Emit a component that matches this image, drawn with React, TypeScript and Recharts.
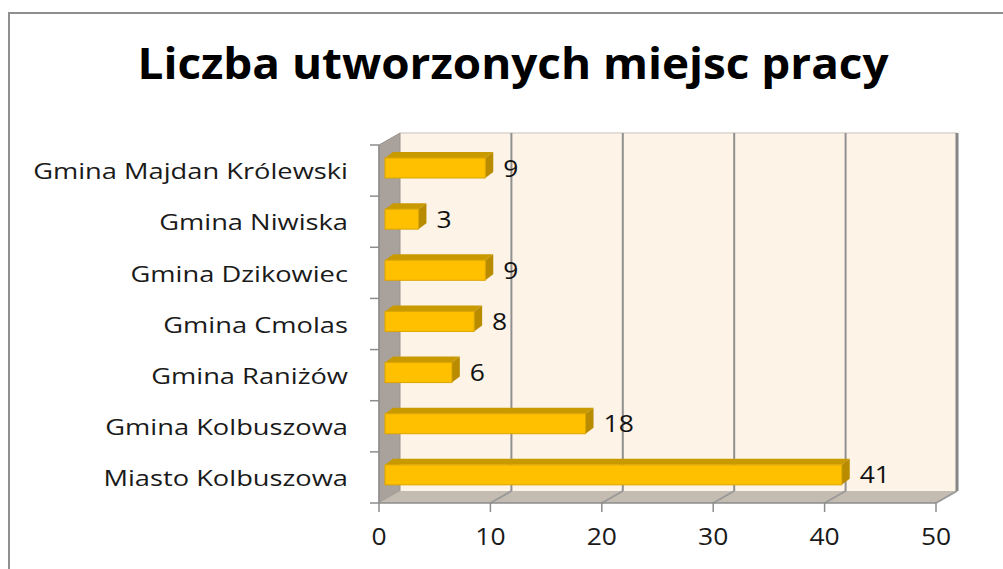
import React from "react";
import {
  BarChart,
  Bar,
  XAxis,
  YAxis,
  ReferenceArea,
  LabelList,
} from "recharts";

// kategorie od góry do dołu
const CATEGORIES = [
  "Gmina Majdan Królewski",
  "Gmina Niwiska",
  "Gmina Dzikowiec",
  "Gmina Cmolas",
  "Gmina Raniżów",
  "Gmina Kolbuszowa",
  "Miasto Kolbuszowa",
];
const VALUES = [9, 3, 9, 8, 6, 18, 41];
const X_TICKS = [0, 10, 20, 30, 40, 50];
const TITLE = "Liczba utworzonych miejsc pracy";

const data = CATEGORIES.map((name, i) => ({ name, value: VALUES[i] }));

// głębokość ścian 3D
const DX = 21;
const DY = 12;
const FONT = "'Open Sans', sans-serif";

const Walls = (props: any) => {
  const { x, y, width: w, height: h } = props;
  const max = X_TICKS[X_TICKS.length - 1];
  const n = CATEGORIES.length;
  return (
    <g>
      {/* tylna ściana */}
      <rect x={x + DX} y={y - DY} width={w} height={h} fill="#FDF3E6" />
      <line x1={x + DX} y1={y - DY} x2={x + DX + w} y2={y - DY} stroke="#E2DDD6" strokeWidth={2} />
      {/* lewa ściana */}
      <polygon
        points={`${x},${y} ${x + DX},${y - DY} ${x + DX},${y + h - DY} ${x},${y + h}`}
        fill="#A9A29C"
        stroke="#9A948F"
        strokeWidth={1}
      />
      {/* podłoga */}
      <polygon
        points={`${x},${y + h} ${x + DX},${y + h - DY} ${x + DX + w},${y + h - DY} ${x + w},${y + h}`}
        fill="#C4BBB1"
      />
      {X_TICKS.filter((t) => t > 0).map((t) => {
        const gx = x + (w * t) / max;
        const last = t === max;
        return (
          <g key={t}>
            <line
              x1={gx + DX}
              y1={y - DY}
              x2={gx + DX}
              y2={y + h - DY}
              stroke={last ? "#868686" : "#909090"}
              strokeWidth={last ? 3 : 2}
            />
            <line
              x1={gx + DX}
              y1={y + h - DY}
              x2={gx}
              y2={y + h}
              stroke="#9A9A9A"
              strokeWidth={2}
            />
          </g>
        );
      })}
      {/* kreski osi kategorii na granicach */}
      {Array.from({ length: n + 1 }, (_, i) => {
        const ty = y + (h * i) / n;
        return (
          <line key={i} x1={x - 9} y1={ty} x2={x} y2={ty} stroke="#8C8C8C" strokeWidth={1.5} />
        );
      })}
    </g>
  );
};

const Bar3D = (props: any) => {
  const { x, y, width, height } = props;
  if (width == null || width <= 0) return null;
  const fx = x + 6;
  const fy = y - 3;
  const d = 8;
  const e = 6;
  return (
    <g>
      <polygon
        points={`${fx},${fy} ${fx + d},${fy - e} ${fx + width + d},${fy - e} ${fx + width},${fy}`}
        fill="#C99A00"
      />
      <polygon
        points={`${fx + width},${fy} ${fx + width + d},${fy - e} ${fx + width + d},${fy + height - e} ${fx + width},${fy + height}`}
        fill="#B98C00"
      />
      <rect x={fx} y={fy} width={width} height={height} fill="#FFC000" stroke="#DCA600" strokeWidth={1} />
    </g>
  );
};

const ValueLabel = (props: any) => {
  const { x, y, width, height, value } = props;
  return (
    <text
      transform={`translate(${x + width + 24},${y + height / 2 - 2.5}) scale(1.15,1)`}
      fontFamily={FONT}
      fontSize={23}
      fill="#111"
      dy="0.35em"
    >
      {value}
    </text>
  );
};

const CategoryTick = (props: any) => {
  const { x, y, payload } = props;
  return (
    <text
      transform={`translate(${x},${y + 1}) scale(1.24,1)`}
      textAnchor="end"
      dy="0.35em"
      fontFamily={FONT}
      fontSize={22}
      fill="#1a1a1a"
    >
      {payload.value}
    </text>
  );
};

const ValueTick = (props: any) => {
  const { x, y, payload } = props;
  return (
    <text
      transform={`translate(${x},${y}) scale(1.15,1)`}
      textAnchor="middle"
      dy="0.71em"
      fontFamily={FONT}
      fontSize={23}
      fill="#1a1a1a"
    >
      {payload.value}
    </text>
  );
};

export default function App() {
  return (
    <div
      style={{
        position: "absolute",
        left: 0,
        top: 0,
        width: 1003,
        height: 569,
        overflow: "hidden",
        background: "#fff",
      }}
    >
      <div
        style={{
          position: "absolute",
          left: 8,
          top: 12,
          width: 1100,
          height: 700,
          border: "2px solid #8F8F8F",
        }}
      />
      <div style={{ position: "absolute", left: 0, top: 0 }}>
        <BarChart
          width={1003}
          height={569}
          data={data}
          layout="vertical"
          margin={{ top: 145, right: 67, bottom: 26, left: 0 }}
          barCategoryGap={0}
        >
          <ReferenceArea
            x1={0}
            x2={50}
            ifOverflow="visible"
            shape={<Walls />}
            zIndex={-100}
          />
          <XAxis
            type="number"
            domain={[0, 50]}
            ticks={X_TICKS}
            height={40}
            tickSize={9}
            tickMargin={17}
            axisLine={{ stroke: "#8C8C8C", strokeWidth: 1.5 }}
            tickLine={{ stroke: "#8C8C8C", strokeWidth: 1.5 }}
            tick={<ValueTick />}
          />
          <YAxis
            type="category"
            dataKey="name"
            width={379}
            tickSize={9}
            tickMargin={22}
            tickLine={false}
            axisLine={{ stroke: "#8C8C8C", strokeWidth: 1.5 }}
            tick={<CategoryTick />}
            interval={0}
          />
          <Bar
            dataKey="value"
            barSize={20}
            shape={<Bar3D />}
            isAnimationActive={false}
          >
            <LabelList dataKey="value" content={<ValueLabel />} />
          </Bar>
        </BarChart>
      </div>
      <svg
        width={1003}
        height={569}
        style={{ position: "absolute", left: 0, top: 0, pointerEvents: "none" }}
      >
        <text
          x={513}
          y={79}
          textAnchor="middle"
          fontFamily={FONT}
          fontWeight={700}
          fontSize={43}
          textLength={751}
          lengthAdjust="spacingAndGlyphs"
          fill="#000"
        >
          {TITLE}
        </text>
      </svg>
    </div>
  );
}
